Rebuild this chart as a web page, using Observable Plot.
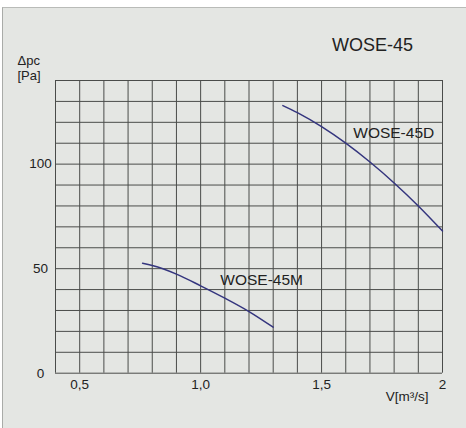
<!DOCTYPE html>
<html>
<head>
<meta charset="utf-8">
<script src="https://cdn.jsdelivr.net/npm/d3@7"></script>
<script src="https://cdn.jsdelivr.net/npm/@observablehq/plot@0.6"></script>
<style>
  html, body { margin: 0; padding: 0; background: #ffffff; }
  #chart { position: absolute; left: 2px; top: 7px; width: 464px; height: 421px;
           background: #e4e6e3; border-left: 1px solid #a9aba8; border-top: 1px solid #b9bbb8; }
  #chart svg { display: block; background: transparent; }
</style>
</head>
<body>
<div id="chart"></div>
<script>
// Data
const titleText = "WOSE-45";
const seriesD = "WOSE-45D";
const flowD = [1.34, 1.4, 1.5, 1.6, 1.7, 1.8, 1.9, 2.0];
const pressureD = [128, 124.6, 117.9, 110.0, 101.0, 91.0, 80.0, 68.0];
const seriesM = "WOSE-45M";
const flowM = [0.76, 0.8, 0.9, 1.0, 1.1, 1.2, 1.3];
const pressureM = [52.6, 51.5, 47.4, 41.8, 35.9, 29.5, 22.0];
const xGridTicks = d3.range(4, 21).map(d => d / 10);
const yGridTicks = d3.range(0, 141, 10);
const xLabelTicks = [0.5, 1.0, 1.5, 2.0];
const xLabelText = ["0,5", "1,0", "1,5", "2"];
const yLabelTicks = [0, 50, 100];
const yAxisTitle = "Δpc\n[Pa]";
const xAxisTitle = "V[m³/s]";

const rowsD = flowD.map((v, i) => ({series: seriesD, v, p: pressureD[i]}));
const rowsM = flowM.map((v, i) => ({series: seriesM, v, p: pressureM[i]}));

const font = "'Liberation Sans', Arial, sans-serif";
const ink = "#222";
const gridColor = "#4a4c4a";

const chart = Plot.plot({
  width: 463,
  height: 420,
  marginLeft: 52,
  marginRight: 24,
  marginTop: 72,
  marginBottom: 55.3,
  style: {background: "transparent", fontFamily: font, fontSize: "13px", color: ink},
  x: {domain: [0.4, 2.0]},
  y: {domain: [0, 140]},
  marks: [
    Plot.gridX(xGridTicks, {stroke: gridColor, strokeOpacity: 1, strokeWidth: 1}),
    Plot.gridY(yGridTicks, {stroke: gridColor, strokeOpacity: 1, strokeWidth: 1}),
    Plot.axisX(xLabelTicks, {
      tickSize: 0, tickPadding: 6, fontSize: 13.5, fill: ink, label: null,
      tickFormat: (d, i) => xLabelText[xLabelTicks.indexOf(d)]
    }),
    Plot.axisY(yLabelTicks, {
      tickSize: 0, tickPadding: 15, textAnchor: "middle", fontSize: 13.5, fill: ink, label: null,
      tickFormat: d => String(d)
    }),
    Plot.line(rowsD, {x: "v", y: "p", curve: "monotone-x", stroke: "#34357e", strokeWidth: 1.5}),
    Plot.line(rowsM, {x: "v", y: "p", curve: "monotone-x", stroke: "#34357e", strokeWidth: 1.5}),
    Plot.text(rowsD.filter(d => d.v === 1.6), {
      x: "v", y: "p", text: "series", textAnchor: "start", dx: 7.5, dy: -10.5,
      fontSize: 15.5, fill: ink, fontFamily: font
    }),
    Plot.text(rowsM.filter(d => d.v === 1.1), {
      x: "v", y: "p", text: "series", textAnchor: "start", dx: -4.5, dy: -18.5,
      fontSize: 15.5, fill: ink, fontFamily: font
    }),
    Plot.text([titleText], {
      frameAnchor: "top-left", text: d => d, textAnchor: "start", dx: 276.5, dy: -42.5,
      fontSize: 18, fill: ink, fontFamily: font
    }),
    Plot.text([yAxisTitle], {
      frameAnchor: "top-left", text: d => d, textAnchor: "start", lineAnchor: "top",
      lineHeight: 1.08, dx: -38, dy: -25, fontSize: 13, fill: ink, fontFamily: font
    }),
    Plot.text([xAxisTitle], {
      frameAnchor: "bottom-right", text: d => d, textAnchor: "end", dx: -14, dy: 28,
      fontSize: 13.5, fill: ink, fontFamily: font
    })
  ]
});
document.getElementById("chart").appendChild(chart);
</script>
</body>
</html>
